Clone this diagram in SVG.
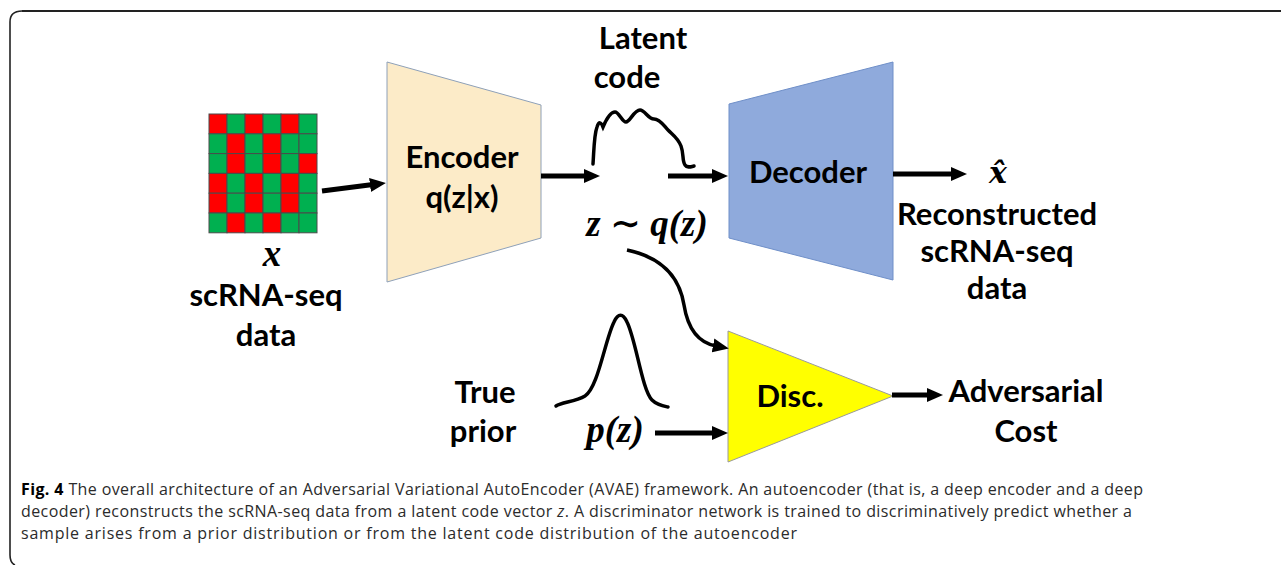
<svg xmlns="http://www.w3.org/2000/svg" width="1281" height="565" viewBox="0 0 1281 565">
<style>
.lbl{font-family:Lato,"Open Sans","Liberation Sans",sans-serif;font-weight:bold;font-size:31px;fill:#000;text-anchor:middle}
.math{font-family:"Liberation Serif","DejaVu Serif",serif;font-weight:bold;font-style:italic;font-size:37px;fill:#000;text-anchor:middle}
.cap{font-family:"Open Sans","Noto Sans","Liberation Sans",sans-serif;font-size:16px;fill:#2b2b2b}
.ar{stroke:#000;stroke-width:5;fill:none}
.cv{stroke:#000;stroke-width:3.5;fill:none;stroke-linecap:round}
.r{fill:#FF0000;stroke:#4a4a4a;stroke-width:1}
.g{fill:#00B050;stroke:#4a4a4a;stroke-width:1}
</style>
<defs>
<marker id="ah" markerUnits="userSpaceOnUse" markerWidth="18" markerHeight="16" refX="3" refY="8" orient="auto">
<path d="M0,1 L16,8 L0,15 z" fill="#000"/>
</marker>
</defs>
<rect x="0" y="0" width="1281" height="565" fill="#fff"/>
<path d="M15,565 Q10,563 10,555 L10,22 Q10,11 22,11 L1281,11" fill="none" stroke="#222" stroke-width="1.6"/>
<line x1="22" y1="11" x2="1281" y2="11" stroke="#222" stroke-width="2.2"/>

<g id="matrix">
<rect class="r" x="209" y="114" width="18" height="19.8"/><rect class="g" x="227" y="114" width="18" height="19.8"/><rect class="r" x="245" y="114" width="18" height="19.8"/><rect class="g" x="263" y="114" width="18" height="19.8"/><rect class="r" x="281" y="114" width="18" height="19.8"/><rect class="g" x="299" y="114" width="18" height="19.8"/>
<rect class="g" x="209" y="133.8" width="18" height="19.8"/><rect class="r" x="227" y="133.8" width="18" height="19.8"/><rect class="g" x="245" y="133.8" width="18" height="19.8"/><rect class="r" x="263" y="133.8" width="18" height="19.8"/><rect class="g" x="281" y="133.8" width="18" height="19.8"/><rect class="g" x="299" y="133.8" width="18" height="19.8"/>
<rect class="g" x="209" y="153.6" width="18" height="19.8"/><rect class="r" x="227" y="153.6" width="18" height="19.8"/><rect class="g" x="245" y="153.6" width="18" height="19.8"/><rect class="r" x="263" y="153.6" width="18" height="19.8"/><rect class="g" x="281" y="153.6" width="18" height="19.8"/><rect class="r" x="299" y="153.6" width="18" height="19.8"/>
<rect class="r" x="209" y="173.4" width="18" height="19.8"/><rect class="g" x="227" y="173.4" width="18" height="19.8"/><rect class="r" x="245" y="173.4" width="18" height="19.8"/><rect class="g" x="263" y="173.4" width="18" height="19.8"/><rect class="r" x="281" y="173.4" width="18" height="19.8"/><rect class="g" x="299" y="173.4" width="18" height="19.8"/>
<rect class="r" x="209" y="193.2" width="18" height="19.8"/><rect class="g" x="227" y="193.2" width="18" height="19.8"/><rect class="r" x="245" y="193.2" width="18" height="19.8"/><rect class="g" x="263" y="193.2" width="18" height="19.8"/><rect class="r" x="281" y="193.2" width="18" height="19.8"/><rect class="g" x="299" y="193.2" width="18" height="19.8"/>
<rect class="g" x="209" y="213" width="18" height="19.8"/><rect class="r" x="227" y="213" width="18" height="19.8"/><rect class="g" x="245" y="213" width="18" height="19.8"/><rect class="r" x="263" y="213" width="18" height="19.8"/><rect class="g" x="281" y="213" width="18" height="19.8"/><rect class="g" x="299" y="213" width="18" height="19.8"/>
<text class="math" x="272" y="266">x</text>
<text class="lbl" x="266" y="306">scRNA-seq</text>
<text class="lbl" x="266" y="346">data</text>
</g>

<g id="encoder">
<polygon points="387,62 541,105 541,238 387,282" fill="#FCEBC8" stroke="#8EA0B8" stroke-width="1"/>
<text class="lbl" x="462" y="168">Encoder</text>
<text class="lbl" x="462" y="208">q(z|x)</text>
</g>

<g id="latent">
<text class="lbl" x="643" y="49">Latent</text>
<text class="lbl" x="627" y="88">code</text>
<path class="cv" d="M593,164 C594,150 594,135 597,127 C599,121 601,122 603,127 C606,120 610,112 615,112 C619,112 622,122 626,122 C630,122 634,110 640,110 C645,110 648,119 654,119 C660,119 664,126 668,130 C673,135 678,138 681,146 C684,154 682,161 685,165 C687,168 690,167 694,166"/>
<text class="math" x="647" y="236" xml:space="preserve">z ∼ q(z)</text>
</g>

<g id="decoder">
<polygon points="729,104 893,62 893,280 729,238" fill="#8FAADC" stroke="#6F8FC8" stroke-width="1"/>
<text class="lbl" x="808" y="183">Decoder</text>
</g>

<g id="output">
<text class="math" x="998" y="183" style="font-family:'DejaVu Serif','Liberation Serif',serif;font-size:30px">x̂</text>
<text class="lbl" x="997" y="225">Reconstructed</text>
<text class="lbl" x="997" y="262">scRNA-seq</text>
<text class="lbl" x="997" y="299">data</text>
</g>

<g id="prior">
<path class="cv" d="M556,406 C562,402 575,402 585,396 C598,388 605,340 614,322 C618,313 623,313 627,322 C636,340 642,390 652,400 C657,405 663,406 668,407"/>
<text class="lbl" x="485" y="403">True</text>
<text class="lbl" x="483" y="442">prior</text>
<text class="math" x="615" y="442">p(z)</text>
</g>

<g id="disc">
<polygon points="728,331 893,396 728,462" fill="#FFFF00" stroke="#9A9A9A" stroke-width="1"/>
<text class="lbl" x="790" y="407">Disc.</text>
</g>

<g id="cost">
<text class="lbl" x="1026" y="402">Adversarial</text>
<text class="lbl" x="1026" y="442">Cost</text>
</g>

<g id="connectors">
<line class="ar" x1="322" y1="191" x2="373" y2="184.6" marker-end="url(#ah)"/>
<line class="ar" x1="541" y1="176" x2="587" y2="176" marker-end="url(#ah)"/>
<line class="ar" x1="668" y1="176" x2="715" y2="176" marker-end="url(#ah)"/>
<line class="ar" x1="893" y1="174" x2="954" y2="174" marker-end="url(#ah)"/>
<path d="M627,250 C665,258 680,280 684,305 C688,330 700,343 716,346" stroke="#000" stroke-width="3.5" fill="none" marker-end="url(#ah)"/>
<line class="ar" x1="655" y1="433" x2="715" y2="433" marker-end="url(#ah)"/>
<line class="ar" x1="892" y1="395" x2="930" y2="395" marker-end="url(#ah)"/>
</g>

<g id="caption">
<text class="cap" x="21" y="495" textLength="1122" lengthAdjust="spacing"><tspan font-weight="bold" fill="#000">Fig. 4</tspan> The overall architecture of an Adversarial Variational AutoEncoder (AVAE) framework. An autoencoder (that is, a deep encoder and a deep</text>
<text class="cap" x="21" y="517" textLength="1111" lengthAdjust="spacing">decoder) reconstructs the scRNA-seq data from a latent code vector <tspan font-style="italic">z</tspan>. A discriminator network is trained to discriminatively predict whether a</text>
<text class="cap" x="21" y="539" textLength="776" lengthAdjust="spacing">sample arises from a prior distribution or from the latent code distribution of the autoencoder</text>
</g>
</svg>
